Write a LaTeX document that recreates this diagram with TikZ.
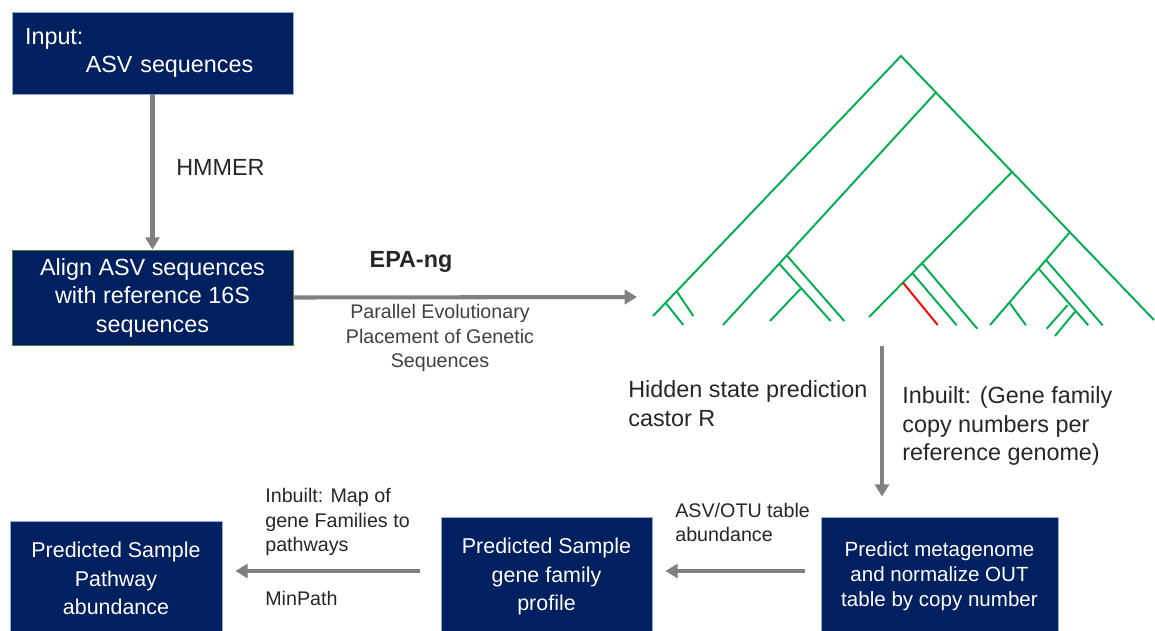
\documentclass[tikz,border=0pt]{standalone}
\usepackage{fontspec}
\setmainfont{Liberation Sans}
\usetikzlibrary{arrows.meta,positioning}
\definecolor{navy}{HTML}{002060}
\definecolor{flowgray}{HTML}{808080}
\definecolor{treegreen}{HTML}{00B050}
\definecolor{edgeblue}{HTML}{8FAADC}
\definecolor{edgegreen}{HTML}{548235}
\definecolor{labelgray}{HTML}{262626}
\definecolor{descgray}{HTML}{404040}
\tikzset{
	bigtext/.style={font=\fontsize{13.3}{16.2}\selectfont},
	boxtext/.style={font=\fontsize{12.2}{16.2}\selectfont},
	smalltext/.style={font=\fontsize{11.2}{14}\selectfont},
	stepbox/.style={fill=navy, draw=edgeblue, line width=0.5pt, text=white, align=center, inner sep=0pt},
	flow/.style={draw=flowgray, line width=2.3pt, -{Triangle[width=8pt,length=7pt]}},
	branch/.style={draw=treegreen, line width=1.1pt},
	note/.style={inner sep=0pt, text=labelgray, align=left, anchor=west},
}
\begin{document}
\begin{tikzpicture}[x=0.02cm, y=-0.02cm]
		\useasboundingbox (0,0) rectangle (1155,630);
		% boxes
		\node[stepbox, bigtext, minimum width=5.62cm, minimum height=1.64cm, text width=5.1cm, align=left](input) at (152.5,53){Input:\\\hspace{2.6em}ASV sequences};
		\node[stepbox, bigtext, minimum width=5.62cm, minimum height=1.9cm, draw=edgegreen](align) at (152.5,297.5){Align ASV sequences\\with reference 16S\\sequences};
		\node[stepbox, boxtext, minimum width=4.24cm, minimum height=2.3cm](pathway) at (116,578.5){Predicted Sample\\Pathway\\abundance};
		\node[stepbox, boxtext, minimum width=4.22cm, minimum height=2.38cm](gene) at (546.5,576.5){Predicted Sample\\gene family\\profile};
		\node[stepbox, font=\fontsize{11.7}{14.2}\selectfont, minimum width=4.74cm, minimum height=2.38cm](meta) at (939.5,576.5){Predict metagenome\\and normalize OUT\\table by copy number};
		% labels
		\node[note, bigtext](hmmer) at (176,167){HMMER};
		\node[inner sep=0pt, text=labelgray, font=\fontsize{13.3}{16.2}\selectfont\bfseries](epa) at (411,262){EPA-ng};
		\node[smalltext, inner sep=0pt, align=center, text=descgray](epadesc) at (440,338){Parallel Evolutionary\\Placement of Genetic\\Sequences};
		\node[note, bigtext](hidden) at (628,403.5){Hidden state prediction\\castor R};
		\node[note, bigtext](inbuilt) at (902,426){Inbuilt: (Gene family\\copy numbers per\\reference genome)};
		\node[note, smalltext](abund) at (675,522.5){ASV/OTU table\\abundance};
		\node[note, smalltext](mapinfo) at (265,522){Inbuilt: Map of\\gene Families to\\pathways};
		\node[note, smalltext](minpath) at (265,598){MinPath};
		\coordinate (treein) at (637,297);
		\coordinate (treeout) at (882,346);
		% tree
		\draw[branch] (653,316) -- (901,56) -- (1154,320);
		\draw[branch] (935.7,92.7) -- (723,325);
		\draw[branch] (1012,172) -- (869,317);
		\draw[branch] (1070,232) -- (990,325);
		\draw[branch] (677,291.7) -- (693.3,316);
		\draw[branch] (666,303.3) -- (683.3,325);
		\draw[branch] (787,255.7) -- (844.3,321);
		\draw[branch] (779.5,264) -- (830.7,321);
		\draw[branch] (801,288.3) -- (770,321);
		\draw[branch] (922,263.3) -- (977.3,328.7);
		\draw[branch] (912.5,273.3) -- (956.7,325.3);
		\draw[draw=red, line width=1.1pt] (903,282.7) -- (937.7,325);
		\draw[branch] (1046,260) -- (1102.7,325.3);
		\draw[branch] (1038.7,268.7) -- (1088.3,325.3);
		\draw[branch] (1009.5,302.7) -- (1026,325.3);
		\draw[branch] (1067.7,305) -- (1046.7,328.7);
		\draw[branch] (1075,311.7) -- (1055,336);
		% arrows
		\draw[flow] (input) -- (align);
		\draw[flow] (align.east) -- (treein);
		\draw[flow, shorten >=0.4cm] (treeout) -- (treeout |- meta.north);
		\draw[flow, shorten <=0.32cm, shorten >=0.26cm] ([yshift=0.11cm]meta.west) -- ([yshift=0.11cm]meta.west -| gene.east);
		\draw[flow, shorten <=0.42cm, shorten >=0.26cm] ([yshift=0.11cm]gene.west) -- ([yshift=0.11cm]gene.west -| pathway.east);
	\end{tikzpicture}
\end{document}
